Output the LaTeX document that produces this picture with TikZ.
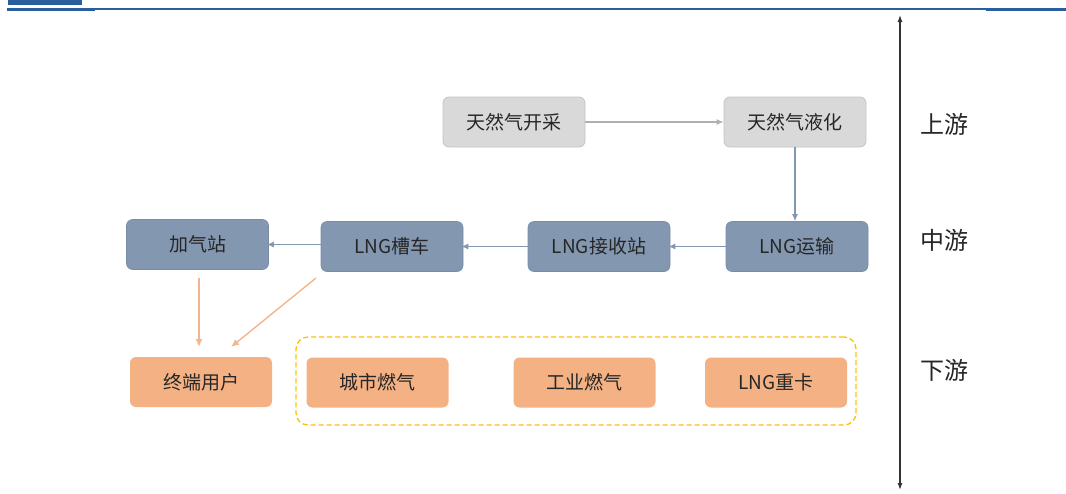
\documentclass[tikz,border=0pt]{standalone}
\usepackage{fontspec}
\setmainfont{Noto Sans CJK SC}
\usetikzlibrary{arrows.meta}
\definecolor{hdrblue}{HTML}{2A5F9E}
\definecolor{grayfill}{HTML}{D9D9D9}
\definecolor{graydraw}{HTML}{C4C4C4}
\definecolor{slate}{HTML}{8497B0}
\definecolor{slatedraw}{HTML}{7A8CA5}
\definecolor{orangefill}{HTML}{F4B183}
\definecolor{orangeline}{HTML}{F5B58C}
\definecolor{txt}{HTML}{262626}
\definecolor{dashyellow}{HTML}{FFC000}
\tikzset{
  box/.style={rounded corners=6pt, minimum width=142pt, minimum height=50pt, inner sep=0pt, font=\fontsize{19}{21}\selectfont, text=txt},
  graybox/.style={box, fill=grayfill, draw=graydraw, line width=0.8pt},
  bluebox/.style={box, fill=slate, draw=slatedraw, line width=0.6pt},
  orangebox/.style={box, fill=orangefill, draw=none},
  grayarrow/.style={draw=graydraw!90!black, line width=1.2pt, -{Latex[length=7pt,width=6pt]}},
  bluearrow/.style={draw=slate, line width=1.3pt, -{Latex[length=7pt,width=6pt]}},
  orangearrow/.style={draw=orangeline, line width=1.4pt, -{Latex[length=8pt,width=7pt]}},
  stagelabel/.style={font=\fontsize{24}{26}\selectfont, text=txt, inner sep=0pt}
}
\begin{document}
\begin{tikzpicture}[x=1pt,y=-1pt]
\useasboundingbox (0,0) rectangle (1066,493);
% header remnants
\fill[hdrblue] (8,0) rectangle (82,5);
\draw[hdrblue, line width=1.6pt] (95,9) -- (986,9);
\draw[hdrblue, line width=2.6pt] (7,9.5) -- (95,9.5);
\draw[hdrblue, line width=2.4pt] (986,9.5) -- (1066,9.5);

% nodes
\node[graybox] (mine) at (514,122) {天然气开采};
\node[graybox] (liq) at (795,122) {天然气液化};
\node[bluebox] (fuel) at (197.5,244.5) {加气站};
\node[bluebox] (tank) at (392,246.5) {LNG槽车};
\node[bluebox] (recv) at (599,246.5) {LNG接收站};
\node[bluebox] (ship) at (797,246.5) {LNG运输};
\node[orangebox] (user) at (201,382) {终端用户};
\node[orangebox] (city) at (377.5,382.5) {城市燃气};
\node[orangebox] (ind) at (584.5,382.5) {工业燃气};
\node[orangebox] (truck) at (776,382.5) {LNG重卡};

% dashed group
\node[draw=dashyellow, dashed, dash pattern=on 5pt off 3pt, line width=1.3pt, rounded corners=12pt, minimum width=560pt, minimum height=88pt, inner sep=0pt] (grp) at (576,381) {};

% connectors
\draw[grayarrow] (mine.east) -- (liq.west);
\draw[bluearrow] (liq.south) -- (ship.north -| liq.south);
\draw[bluearrow] (ship.west) -- ([xshift=-2pt]recv.east);
\draw[bluearrow] (recv.west) -- ([xshift=-2pt]tank.east);
\draw[bluearrow] (tank.west |- fuel.east) -- ([xshift=-2pt]fuel.east);
\coordinate (fa) at (199,278);
\coordinate (ta) at (316,278);
\draw[orangearrow] (fa) -- (fa |- 0,347);
\draw[orangearrow] (ta) -- (231,347);

% stage axis
\coordinate (axtop) at (900,15);
\coordinate (axbot) at (900,490);
\draw[line width=1.2pt, black!80, {Latex[length=7pt,width=5pt]}-{Latex[length=7pt,width=5pt]}] (axtop) -- (axbot);
\node[stagelabel] (up) at (944,124) {上游};
\node[stagelabel] (mid) at (944,240) {中游};
\node[stagelabel] (down) at (944,370) {下游};
\end{tikzpicture}
\end{document}
